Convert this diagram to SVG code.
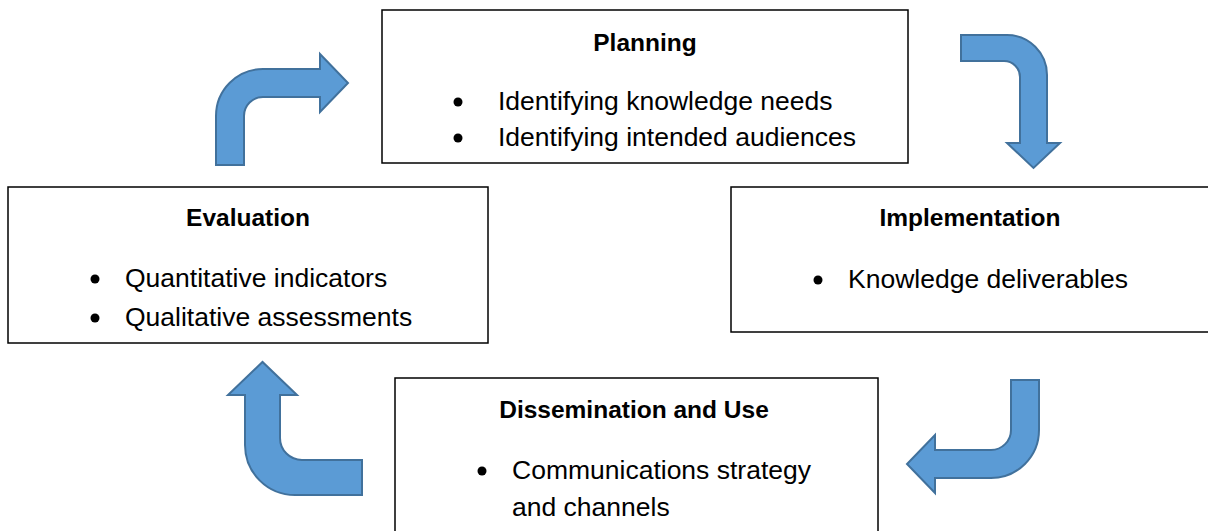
<svg xmlns="http://www.w3.org/2000/svg" width="1208" height="531" viewBox="0 0 1208 531">
<style>
.box{fill:#fff;stroke:#000;stroke-width:1.5}
.arr{fill:#5B9BD5;stroke:#41719C;stroke-width:2;stroke-linejoin:miter}
.t{font-family:"Liberation Sans",Arial,sans-serif;font-size:24.5px;font-weight:bold;fill:#000;text-anchor:middle}
.b{font-family:"Liberation Sans",Arial,sans-serif;font-size:26.5px;fill:#000}
.dot{fill:#000}
</style>
<rect width="1208" height="531" fill="#fff"/>
<g id="connectors">
<path class="arr" d="M216,165 L216,116 A47,47 0 0 1 263,69 L320,69 L320,54 L348,83 L320,112 L320,97 L263,97 A19,19 0 0 0 244,116 L244,165 Z"/>
<path class="arr" d="M961,35 L1007,35 A40,40 0 0 1 1047,75 L1047,143 L1060,143 L1033.5,168 L1007,143 L1020,143 L1020,77 A16,16 0 0 0 1004,61 L961,61 Z"/>
<path class="arr" d="M1011,380 L1039,380 L1039,430 A48,48 0 0 1 991,478 L935,478 L935,493 L907,464 L935,435 L935,450 L991,450 A20,20 0 0 0 1011,430 Z"/>
<path class="arr" d="M362,460 L362,495 L295,495 A50,50 0 0 1 245,445 L245,395 L228,395 L262.5,362 L297,395 L280,395 L280,438 A22,22 0 0 0 302,460 Z"/>
</g>
<g id="planning">
<rect class="box" x="382" y="10" width="526" height="153"/>
<text class="t" x="645" y="51">Planning</text>
<circle class="dot" cx="458" cy="102" r="4.5"/>
<text class="b" x="498" y="110">Identifying knowledge needs</text>
<circle class="dot" cx="458" cy="138" r="4.5"/>
<text class="b" x="498" y="146">Identifying intended audiences</text>
</g>
<g id="evaluation">
<rect class="box" x="8" y="187" width="480" height="156"/>
<text class="t" x="248" y="226">Evaluation</text>
<circle class="dot" cx="95" cy="279" r="4.5"/>
<text class="b" x="125" y="287">Quantitative indicators</text>
<circle class="dot" cx="95" cy="318" r="4.5"/>
<text class="b" x="125" y="326">Qualitative assessments</text>
</g>
<g id="implementation">
<rect class="box" x="731" y="187" width="480" height="145"/>
<text class="t" x="970" y="226">Implementation</text>
<circle class="dot" cx="818" cy="280" r="4.5"/>
<text class="b" x="848" y="288">Knowledge deliverables</text>
</g>
<g id="dissemination">
<rect class="box" x="395" y="378" width="483" height="160"/>
<text class="t" x="634" y="418">Dissemination and Use</text>
<circle class="dot" cx="482" cy="471" r="4.5"/>
<text class="b" x="512" y="479">Communications strategy</text>
<text class="b" x="512" y="516">and channels</text>
</g>
</svg>
